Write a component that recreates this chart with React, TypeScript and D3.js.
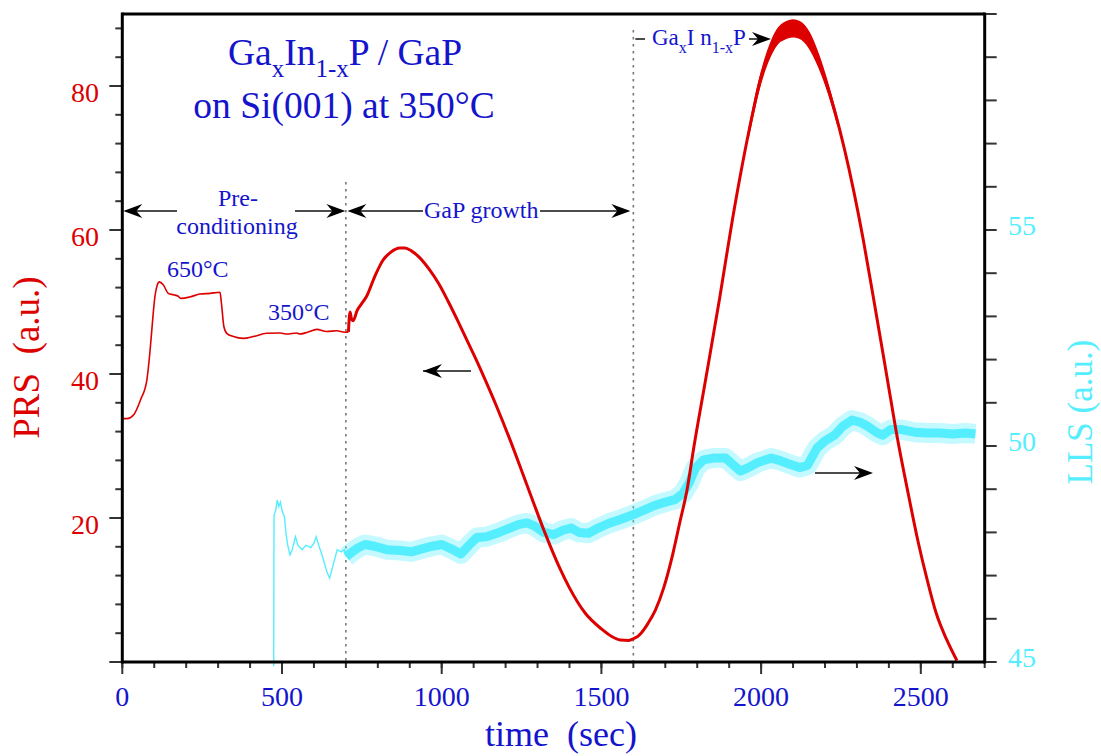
import React from 'react';
import * as d3 from 'd3';

// ---------- data ----------
// PRS (left axis), pre-conditioning part
const prsPreT = [0, 15, 35, 57, 77, 87, 95, 102, 109, 116, 128, 144, 160, 175, 183, 212, 243, 275, 306, 310, 318, 327, 348, 379, 410, 452, 494, 515, 546, 556, 580, 609, 640, 671, 697, 708];
const prsPreV = [33.8, 33.8, 34.3, 36.4, 39.2, 43.3, 47.5, 50.7, 52.3, 52.8, 52.4, 51.2, 51.0, 50.8, 50.5, 50.7, 51.1, 51.2, 51.35, 50.0, 46.6, 45.65, 45.2, 44.95, 45.2, 45.65, 45.7, 45.55, 45.7, 45.55, 45.8, 46.2, 45.9, 46.0, 45.8, 45.85];
// PRS growth part
const prsGrowT = [708, 713, 718, 723, 735, 750, 765, 790, 816, 840, 869, 885, 905, 930, 960, 990, 1020, 1050, 1080, 1110, 1140, 1170, 1210, 1250, 1286, 1320, 1339, 1370, 1400, 1449, 1500, 1530, 1559, 1585, 1603, 1615, 1624, 1645, 1669, 1695, 1724, 1745, 1768, 1790, 1827, 1870, 1910, 1976, 2000, 2030, 2060, 2100, 2140, 2170, 2200, 2230, 2260, 2290, 2320, 2350, 2394, 2427, 2460, 2492, 2520, 2548, 2580, 2613];
const prsGrowV = [45.85, 48.6, 47.6, 47.4, 48.8, 49.8, 50.8, 53.5, 55.8, 56.9, 57.5, 57.5, 57.1, 56.2, 54.6, 52.6, 50.1, 47.4, 44.6, 41.8, 38.8, 35.7, 31.3, 26.6, 22.3, 18.3, 16.2, 13.0, 10.3, 6.8, 4.6, 3.6, 3.05, 3.0, 3.3, 3.6, 4.0, 5.3, 7.2, 10.3, 15.1, 19.3, 23.9, 30.0, 39.4, 50.5, 61.4, 76.7, 81.3, 85.1, 87.2, 88.0, 86.9, 84.6, 81.0, 76.6, 71.4, 65.4, 58.6, 51.0, 39.6, 31.0, 23.5, 16.6, 11.4, 6.8, 3.2, 0.2];
// oscillation envelope near the PRS maximum
const bandT = [1960, 1990, 2020, 2050, 2080, 2100, 2120, 2150, 2180, 2210, 2240];
const bandHi = [73.5, 80.0, 84.75, 87.8, 88.95, 89.15, 88.95, 87.45, 84.3, 80.1, 75.15];
const bandLo = [72.9, 79.0, 83.25, 85.8, 86.65, 86.85, 86.65, 85.35, 82.7, 79.1, 74.65];

// LLS (right axis)
const llsPreT = [474, 475, 480, 485, 490, 495, 500, 508, 512, 518, 525, 532, 542, 550, 563, 575, 590, 600, 607, 615, 622, 630, 640, 649, 655, 662, 673, 685, 695, 701];
const llsPreV = [44.9, 48.4, 48.5, 48.75, 48.6, 48.7, 48.5, 48.35, 48.0, 47.7, 47.48, 47.6, 47.9, 47.7, 47.6, 47.7, 47.65, 47.75, 47.9, 47.7, 47.55, 47.36, 47.1, 46.94, 47.1, 47.3, 47.6, 47.55, 47.6, 47.44];
const llsGrowT = [701, 720, 740, 760, 790, 828, 870, 905, 938, 970, 1000, 1030, 1060, 1085, 1110, 1140, 1180, 1213, 1240, 1267, 1290, 1320, 1350, 1380, 1405, 1430, 1460, 1490, 1520, 1559, 1603, 1635, 1669, 1700, 1730, 1755, 1775, 1795, 1820, 1850, 1889, 1910, 1935, 1960, 1990, 2032, 2060, 2090, 2120, 2145, 2175, 2200, 2230, 2255, 2285, 2310, 2335, 2360, 2380, 2405, 2440, 2480, 2520, 2560, 2600, 2640, 2671];
const llsGrowV = [47.44, 47.55, 47.65, 47.72, 47.68, 47.6, 47.58, 47.55, 47.62, 47.68, 47.72, 47.62, 47.5, 47.7, 47.88, 47.9, 48.0, 48.1, 48.18, 48.22, 48.15, 48.0, 47.95, 48.05, 48.1, 48.0, 47.98, 48.1, 48.2, 48.3, 48.42, 48.52, 48.63, 48.7, 48.76, 48.9, 49.15, 49.5, 49.68, 49.72, 49.72, 49.58, 49.42, 49.5, 49.62, 49.72, 49.66, 49.58, 49.5, 49.55, 49.95, 50.12, 50.25, 50.45, 50.6, 50.55, 50.45, 50.32, 50.25, 50.38, 50.38, 50.32, 50.3, 50.3, 50.28, 50.3, 50.28];

// ticks
const xMajor = [0, 500, 1000, 1500, 2000, 2500];
const xMinor = d3.range(0, 2701, 100);
const yLMajor = [0, 20, 40, 60, 80];
const yLLabels = [20, 40, 60, 80];
const yLMinor = d3.range(0, 90, 4);
const yRTicks = d3.range(45, 61, 1);
const yRLabels = [45, 50, 55];
const phaseBoundaries = [700, 1600];

// ---------- styles ----------
const RED = '#dd0000';
const CYAN = '#55eeff';
const BLUE = '#1414cc';
const FONT = '"Liberation Serif", "DejaVu Serif", serif';

const zip = (a: number[], b: number[]) => a.map((t, i) => [t, b[i]] as [number, number]);

function Arrow({ x, y, dir }: { x: number; y: number; dir: 1 | -1 }) {
  const L = 19, N = 13, Wd = 7;
  const d = `M${x},${y} L${x - dir * L},${y - Wd} L${x - dir * N},${y} L${x - dir * L},${y + Wd} Z`;
  return <path d={d} fill="#000" />;
}

export default function App() {
  const left = 122.3, right = 984.7, top = 14, bottom = 662;
  const x = d3.scaleLinear().domain([0, 2700]).range([left, right]);
  const yL = d3.scaleLinear().domain([0, 90]).range([bottom, top]);
  const yR = d3.scaleLinear().domain([45, 60]).range([bottom, top]);

  const lineL = d3.line<[number, number]>().x(d => x(d[0])).y(d => yL(d[1])).curve(d3.curveMonotoneX);
  const lineR = d3.line<[number, number]>().x(d => x(d[0])).y(d => yR(d[1]));
  const band = d3.area<number>()
    .x((_, i) => x(bandT[i]))
    .y0((_, i) => yL(bandLo[i]))
    .y1((_, i) => yL(bandHi[i]))
    .curve(d3.curveMonotoneX);

  const arrowY = 211;
  const llsGrowPath = lineR(zip(llsGrowT, llsGrowV)) || '';

  return (
    <svg width={1101} height={756} style={{ position: 'absolute', left: 0, top: 0, background: '#fff' }} fontFamily={FONT}>
      <rect x={0} y={0} width={1101} height={756} fill="#fff" />

      {/* phase boundary dotted lines */}
      <line x1={x(phaseBoundaries[0])} x2={x(phaseBoundaries[0])} y1={182} y2={bottom} stroke="#777" strokeWidth={1.6} strokeDasharray="2.5 4.5" />
      <line x1={x(phaseBoundaries[1])} x2={x(phaseBoundaries[1])} y1={30} y2={bottom} stroke="#777" strokeWidth={1.6} strokeDasharray="2.5 4.5" />

      {/* LLS */}
      <path d={lineR(zip(llsPreT, llsPreV)) || ''} fill="none" stroke={CYAN} strokeWidth={1.4} />
      <path d={llsGrowPath} fill="none" stroke={CYAN} strokeOpacity={0.35} strokeWidth={20} strokeLinejoin="round" />
      <path d={llsGrowPath} fill="none" stroke={CYAN} strokeWidth={9} strokeLinejoin="round" />

      {/* PRS */}
      <path d={lineL(zip(prsPreT, prsPreV)) || ''} fill="none" stroke={RED} strokeWidth={1.6} />
      <path d={lineL(zip(prsGrowT, prsGrowV)) || ''} fill="none" stroke={RED} strokeWidth={3} />
      <path d={band(bandT) || ''} fill={RED} stroke={RED} strokeWidth={1.5} />

      {/* axes frame */}
      <g stroke="#333" strokeWidth={2}>
        {xMinor.map(t => (
          <line key={'xm' + t} x1={x(t)} x2={x(t)} y1={bottom} y2={bottom + 6} />
        ))}
        {xMajor.map(t => (
          <line key={'xM' + t} x1={x(t)} x2={x(t)} y1={bottom} y2={bottom + 12} />
        ))}
        {yLMinor.map(v => (
          <line key={'lm' + v} x1={left - 7} x2={left} y1={yL(v)} y2={yL(v)} />
        ))}
        {yLMajor.map(v => (
          <line key={'lM' + v} x1={left - 13} x2={left} y1={yL(v)} y2={yL(v)} />
        ))}
        {yRTicks.map(v => (
          <line key={'r' + v} x1={right} x2={right + 12} y1={yR(v)} y2={yR(v)} />
        ))}
      </g>
      <g stroke="#000" strokeWidth={3} fill="none">
        <line x1={left} x2={left} y1={top - 1.5} y2={bottom + 1.5} />
        <line x1={right} x2={right} y1={top - 1.5} y2={bottom + 1.5} />
        <line x1={left} x2={right} y1={top} y2={top} />
        <line x1={left} x2={right} y1={bottom} y2={bottom} />
      </g>

      {/* tick labels */}
      {xMajor.map(t => (
        <text key={'xl' + t} x={x(t)} y={706} fontSize={28} fill={BLUE} textAnchor="middle">{t}</text>
      ))}
      {yLLabels.map(v => (
        <text key={'ll' + v} x={99} y={yL(v) + 16} fontSize={28} fill={RED} textAnchor="end">{v}</text>
      ))}
      {yRLabels.map(v => (
        <text key={'rl' + v} x={1008} y={yR(v) + 5} fontSize={28} fill={CYAN} textAnchor="start">{v}</text>
      ))}

      {/* axis titles */}
      <text x={485} y={746} fontSize={36} fill={BLUE} style={{ whiteSpace: 'pre' }}>{'time  (sec)'}</text>
      <text transform="translate(39,357.5) rotate(-90)" fontSize={37} fill={RED} textAnchor="middle" style={{ whiteSpace: 'pre' }}>{'PRS  (a.u.)'}</text>
      <text transform="translate(1092,412) rotate(-90)" fontSize={35} fill={CYAN} textAnchor="middle" style={{ whiteSpace: 'pre' }}>{'LLS (a.u.)'}</text>

      {/* title */}
      <text x={345} y={65} fontSize={37.5} fill={BLUE} textAnchor="middle">
        Ga<tspan dy={12} fontSize={25}>x</tspan><tspan dy={-12}>In</tspan><tspan dy={12} fontSize={25}>1-x</tspan><tspan dy={-12}>P / GaP</tspan>
      </text>
      <text x={344} y={118} fontSize={37.5} fill={BLUE} textAnchor="middle">on Si(001) at 350°C</text>

      {/* phase annotations */}
      <g stroke="#111" strokeWidth={1.5}>
        <line x1={left + 10} x2={177} y1={arrowY} y2={arrowY} />
        <line x1={295} x2={x(700) - 10} y1={arrowY} y2={arrowY} />
        <line x1={x(700) + 10} x2={423} y1={arrowY} y2={arrowY} />
        <line x1={540} x2={x(1600) - 10} y1={arrowY} y2={arrowY} />
        <line x1={x(1600) + 2} x2={645} y1={39} y2={39} />
        <line x1={749} x2={760} y1={39} y2={39} />
        <line x1={423} x2={471} y1={371} y2={371} />
        <line x1={815} x2={866} y1={473} y2={473} />
      </g>
      <Arrow x={left + 1} y={arrowY} dir={-1} />
      <Arrow x={x(700) - 0.5} y={arrowY} dir={1} />
      <Arrow x={x(700) + 1.5} y={arrowY} dir={-1} />
      <Arrow x={x(1600) - 3} y={arrowY} dir={1} />
      <Arrow x={771} y={39} dir={1} />
      <Arrow x={423} y={371} dir={-1} />
      <Arrow x={873} y={473} dir={1} />

      <text x={238} y={206} fontSize={24} fill={BLUE} textAnchor="middle">Pre-</text>
      <text x={237} y={234} fontSize={24} fill={BLUE} textAnchor="middle">conditioning</text>
      <text x={424} y={218} fontSize={24} fill={BLUE}>GaP growth</text>
      <text x={652} y={44.5} fontSize={23} fill={BLUE} style={{ whiteSpace: 'pre' }}>
        Ga<tspan dy={8} fontSize={16}>x</tspan><tspan dy={-8}>{'I n'}</tspan><tspan dy={8} fontSize={16}>{'1-x'}</tspan><tspan dy={-8}>P</tspan>
      </text>
      <text x={167} y={277} fontSize={24} fill={BLUE}>650°C</text>
      <text x={268} y={320} fontSize={24} fill={BLUE}>350°C</text>
    </svg>
  );
}
